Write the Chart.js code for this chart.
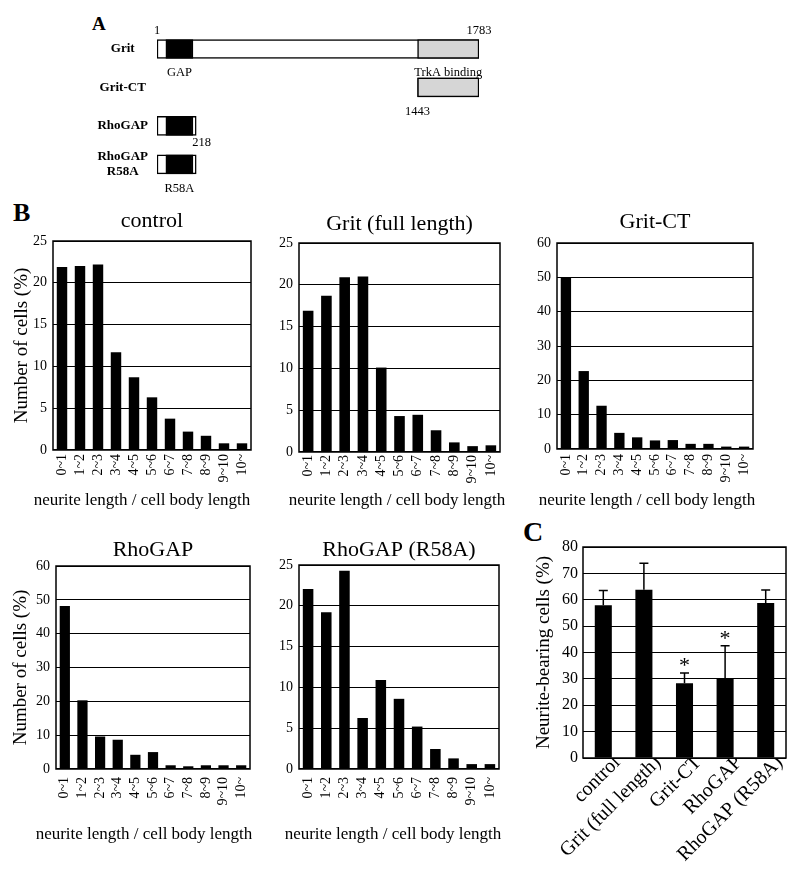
<!DOCTYPE html>
<html>
<head>
<meta charset="utf-8">
<title>Grit neurite outgrowth</title>
<script src="https://cdn.jsdelivr.net/npm/chart.js@4.4.1/dist/chart.umd.min.js"></script>
<style>
  body { margin: 0; background: #fff; }
  #fig { position: relative; width: 800px; height: 876px; overflow: hidden; font-family: 'Liberation Serif', serif; }
  #fig canvas { position: absolute; }
  .panel { position: absolute; font-weight: bold; line-height: 1; color: #000; }
</style>
</head>
<body>
<div id="fig">
  <div class="panel" style="left:92px; top:14px; font-size:19px;">A</div>
  <div class="panel" style="left:13px; top:200px; font-size:26px;">B</div>
  <div class="panel" style="left:523px; top:518px; font-size:28px;">C</div>
</div>
<script>
// Panel A - domain structure (amino acid positions)
const domainRows = ['Grit', 'Grit-CT', 'RhoGAP', ['RhoGAP', 'R58A']];
const constructSpan = [[1, 1783], [1443, 1783], [1, 218], [1, 218]];
const gapSpan = [[50, 200], null, [50, 200], [50, 200]];
const trkaSpan = [[1443, 1783], [1443, 1783], null, null];
const domainNotes = [
    { text: '1', row: 0, at: 1, side: 'above' },
    { text: '1783', row: 0, at: 1783, side: 'above' },
    { text: 'GAP', row: 0, at: 125, side: 'below' },
    { text: 'TrkA binding', row: 0, at: 1613, side: 'below' },
    { text: '1443', row: 1, at: 1443, side: 'below' },
    { text: '218', row: 2, at: 218, side: 'corner' },
    { text: 'R58A', row: 3, at: 125, side: 'below' }
];

// Panel B - histograms of neurite length / cell body length (% of cells)
const lengthBins = ['0~1', '1~2', '2~3', '3~4', '4~5', '5~6', '6~7', '7~8', '8~9', '9~10', '10~'];
const controlPct = [21.9, 22.0, 22.2, 11.7, 8.7, 6.3, 3.75, 2.2, 1.7, 0.8, 0.8];
const gritFullPct = [16.9, 18.7, 20.9, 21.0, 10.1, 4.3, 4.45, 2.6, 1.15, 0.7, 0.8];
const gritCtPct = [50.1, 22.7, 12.6, 4.7, 3.4, 2.5, 2.6, 1.5, 1.5, 0.7, 0.7];
const rhoGapPct = [48.2, 20.3, 9.6, 8.65, 4.2, 5.0, 1.1, 0.8, 1.1, 1.1, 1.1];
const rhoGapR58APct = [22.05, 19.2, 24.3, 6.25, 10.9, 8.6, 5.2, 2.45, 1.3, 0.6, 0.6];

// Panel C - neurite-bearing cells (%)
const groups = ['control', 'Grit (full length)', 'Grit-CT', 'RhoGAP', 'RhoGAP (R58A)'];
const bearingMean = [57.9, 63.8, 28.3, 30.2, 58.8];
const bearingErr = [5.6, 10.0, 3.9, 12.4, 4.9];
const bearingSig = ['', '', '*', '*', ''];

Chart.defaults.font.family = 'Liberation Serif';
Chart.defaults.color = '#000';
Chart.defaults.animation = false;
Chart.defaults.responsive = false;
Chart.defaults.plugins.legend.display = false;
Chart.defaults.plugins.tooltip.enabled = false;

const fig = document.getElementById('fig');

function addCanvas(left, top, width, height) {
    const c = document.createElement('canvas');
    c.width = width;
    c.height = height;
    c.style.left = left + 'px';
    c.style.top = top + 'px';
    c.style.width = width + 'px';
    c.style.height = height + 'px';
    fig.appendChild(c);
    return c;
}

// box round the plot area
const framePlugin = {
    id: 'frame',
    afterDatasetsDraw(chart) {
        const a = chart.chartArea;
        const ctx = chart.ctx;
        ctx.save();
        ctx.strokeStyle = '#000';
        ctx.lineWidth = 1.5;
        ctx.strokeRect(a.left, a.top, a.right - a.left, a.bottom - a.top);
        ctx.restore();
    }
};

// Panel A
const notesPlugin = {
    id: 'notes',
    afterDatasetsDraw(chart) {
        const ctx = chart.ctx;
        const xs = chart.scales.x, ys = chart.scales.y;
        ctx.save();
        ctx.fillStyle = '#000';
        ctx.font = '12.5px "Liberation Serif"';
        ctx.textBaseline = 'middle';
        domainNotes.forEach(n => {
            const x = xs.getPixelForValue(n.at);
            const yc = ys.getPixelForValue(n.row);
            if (n.side === 'above') {
                ctx.textAlign = 'center';
                ctx.fillText(n.text, x, yc - 18);
            } else if (n.side === 'corner') {
                ctx.textAlign = 'left';
                ctx.fillText(n.text, x - 4, yc + 17);
            } else {
                ctx.textAlign = 'center';
                ctx.fillText(n.text, x, yc + 24);
            }
        });
        ctx.restore();
    }
};

function drawDomains() {
    const canvas = addCanvas(0, 0, 800, 200);
    const common = { borderColor: '#000', borderWidth: 1.5, borderSkipped: false, grouped: false, barThickness: 19 };
    new Chart(canvas, {
        type: 'bar',
        data: {
            labels: domainRows,
            datasets: [
                Object.assign({ label: 'GAP', data: gapSpan, backgroundColor: '#000' }, common),
                Object.assign({ label: 'TrkA binding', data: trkaSpan, backgroundColor: '#d6d6d6' }, common),
                Object.assign({ label: 'construct', data: constructSpan, backgroundColor: '#fff' }, common)
            ]
        },
        options: {
            indexAxis: 'y',
            layout: { padding: { top: 29.75, right: 321, bottom: 16.25, left: 0 } },
            scales: {
                x: { type: 'linear', display: false, min: 1, max: 1783 },
                y: {
                    grid: { display: false, drawTicks: false },
                    border: { display: false },
                    ticks: { crossAlign: 'center', padding: 9, font: { size: 13, weight: 'bold', lineHeight: 1.15 } },
                    afterFit: s => { s.width = 157; }
                }
            }
        },
        plugins: [notesPlugin]
    });
}

// Panel B
function histogram(box, title, values, yMax, yStep, showYTitle) {
    const M = 60;
    const [l, t, r, b] = box.plot;
    const top = Math.floor(box.titleY - 17);
    const left = l - M;
    // the bottom caption spans from the canvas edge to the right-hand spacer axis,
    // so the spacer width sets where the caption is centred
    const sideW = Math.max(12, Math.round(2 * box.xTitleX - left - r));
    const width = (r - left) + sideW;
    const capH = 17 * 1.2;
    const height = Math.round(box.xTitleY + capH / 2 - top);
    const canvas = addCanvas(left, top, width, height);
    new Chart(canvas, {
        type: 'bar',
        data: {
            labels: lengthBins,
            datasets: [{ data: values, backgroundColor: '#000', barPercentage: 0.58, categoryPercentage: 1 }]
        },
        options: {
            layout: { padding: 0 },
            plugins: {
                title: {
                    display: true,
                    position: 'bottom',
                    text: 'neurite length / cell body length',
                    font: { size: 17, weight: 'normal' },
                    padding: 0
                }
            },
            scales: {
                x: {
                    grid: { display: false, drawTicks: false },
                    border: { display: false },
                    ticks: { minRotation: 90, maxRotation: 90, autoSkip: false, font: { size: 14 }, padding: box.tickPad },
                    afterFit: s => { s.height = (top + height - capH) - b; }
                },
                // chart title, centred over the plot area
                head: {
                    axis: 'x',
                    position: 'top',
                    type: 'category',
                    grid: { display: false, drawTicks: false },
                    border: { display: false },
                    ticks: { display: false },
                    title: {
                        display: true,
                        text: title,
                        font: { size: 22 },
                        padding: { top: box.titleY - 13.2 - top, bottom: 0 }
                    },
                    afterFit: s => { s.height = t - top; }
                },
                y: {
                    min: 0,
                    max: yMax,
                    ticks: { stepSize: yStep, font: { size: 14 }, padding: 6 },
                    grid: { color: '#000', lineWidth: 1, drawTicks: false },
                    border: { display: false },
                    title: {
                        display: showYTitle,
                        text: 'Number of cells (%)',
                        font: { size: 19 },
                        padding: { top: showYTitle ? box.yTitleX - left - 11.4 : 0, bottom: 0 }
                    },
                    afterFit: s => { s.width = M; }
                },
                // empty spacer on the right
                side: {
                    axis: 'y',
                    position: 'right',
                    type: 'linear',
                    min: 0,
                    max: yMax,
                    grid: { display: false, drawTicks: false },
                    border: { display: false },
                    ticks: { display: false },
                    afterFit: s => { s.width = sideW; }
                }
            }
        },
        plugins: [framePlugin]
    });
}

// Panel C
const errorBarPlugin = {
    id: 'errorBars',
    afterDatasetsDraw(chart) {
        const ctx = chart.ctx;
        const ys = chart.scales.y;
        const meta = chart.getDatasetMeta(0);
        ctx.save();
        ctx.strokeStyle = '#000';
        ctx.fillStyle = '#000';
        ctx.lineWidth = 1.5;
        meta.data.forEach((bar, i) => {
            const yTop = ys.getPixelForValue(bearingMean[i] + bearingErr[i]);
            ctx.beginPath();
            ctx.moveTo(bar.x, bar.y);
            ctx.lineTo(bar.x, yTop);
            ctx.moveTo(bar.x - 4.5, yTop);
            ctx.lineTo(bar.x + 4.5, yTop);
            ctx.stroke();
            if (bearingSig[i]) {
                ctx.font = '22px "Liberation Serif"';
                ctx.textAlign = 'center';
                ctx.textBaseline = 'alphabetic';
                ctx.fillText(bearingSig[i], bar.x, yTop - 1);
            }
        });
        ctx.restore();
    }
};

function drawBearing() {
    const M = 60;
    const [l, t, r, b] = [583, 547, 786, 758];
    const top = 527;
    const height = 876 - top;
    const canvas = addCanvas(l - M, top, (r - l) + M + 14, height);
    new Chart(canvas, {
        type: 'bar',
        data: {
            labels: groups,
            datasets: [{ data: bearingMean, backgroundColor: '#000', barPercentage: 0.42, categoryPercentage: 1 }]
        },
        options: {
            layout: { padding: { left: 0, right: 14, top: t - top, bottom: 0 } },
            scales: {
                x: {
                    grid: { display: false, drawTicks: false },
                    border: { display: false },
                    ticks: { minRotation: 45, maxRotation: 45, autoSkip: false, font: { size: 20 }, padding: -7, labelOffset: 14 },
                    afterFit: s => { s.height = (top + height) - b; }
                },
                y: {
                    min: 0,
                    max: 80,
                    ticks: { stepSize: 10, font: { size: 16 }, padding: 5 },
                    grid: { color: '#000', lineWidth: 1, drawTicks: false },
                    border: { display: false },
                    title: { display: true, text: 'Neurite-bearing cells (%)', font: { size: 19 }, padding: { top: 544 - (l - M) - 11.4, bottom: 0 } },
                    afterFit: s => { s.width = M; }
                }
            }
        },
        plugins: [framePlugin, errorBarPlugin]
    });
}

drawDomains();
histogram({ plot: [53, 241, 251, 450], titleY: 221.6, xTitleX: 142, xTitleY: 501, yTitleX: 22, tickPad: 4 }, 'control', controlPct, 25, 5, true);
histogram({ plot: [299, 243, 500, 452], titleY: 224.3, xTitleX: 397, xTitleY: 501, tickPad: 3 }, 'Grit (full length)', gritFullPct, 25, 5, false);
histogram({ plot: [557, 243, 753, 449], titleY: 222.6, xTitleX: 647, xTitleY: 501, tickPad: 5 }, 'Grit-CT', gritCtPct, 60, 10, false);
histogram({ plot: [56, 566, 250, 769], titleY: 550.6, xTitleX: 144, xTitleY: 835, yTitleX: 21, tickPad: 8 }, 'RhoGAP', rhoGapPct, 60, 10, true);
histogram({ plot: [299, 565, 499, 769], titleY: 550, xTitleX: 393, xTitleY: 835, tickPad: 8 }, 'RhoGAP (R58A)', rhoGapR58APct, 25, 5, false);
drawBearing();
</script>
</body>
</html>
